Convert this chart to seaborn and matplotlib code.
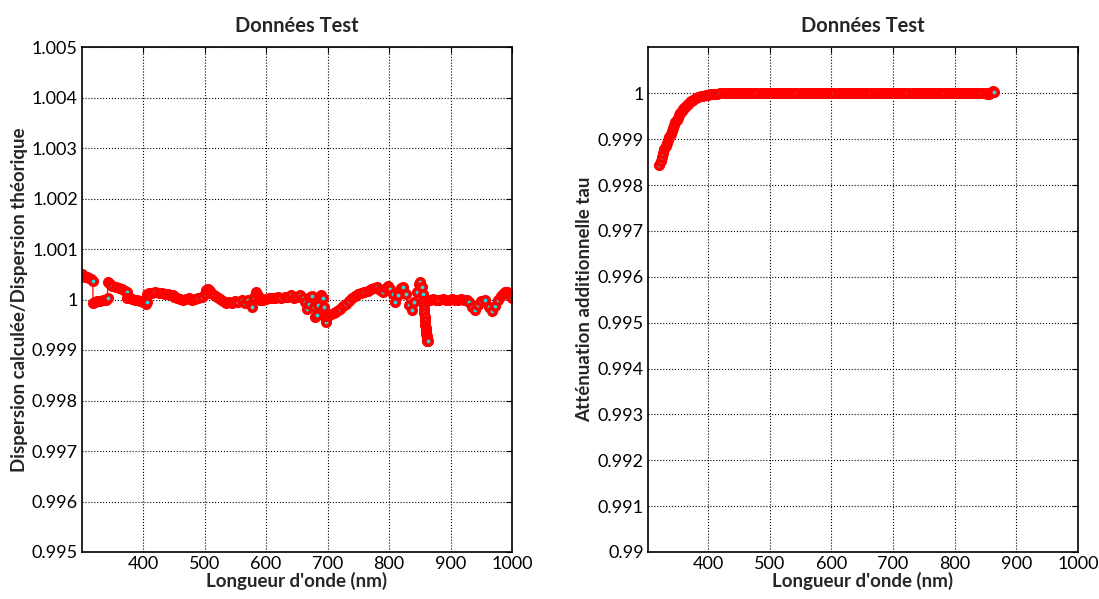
import matplotlib
matplotlib.use("Agg")
import matplotlib.pyplot as plt
import seaborn as sns
import pandas as pd

# ---------------- data ----------------
left_wavelength = [
    300, 303, 306, 309, 312, 315, 318,
    318.5, 321, 325, 330, 335, 340, 342,
    342.5, 346, 350, 355, 360, 365, 370, 373,
    374, 378, 382, 386, 390, 395, 400, 404, 406,
    407, 410, 415, 420, 425, 430, 435, 440, 445, 448,
    450, 455, 460, 465, 470, 475, 480, 485, 490, 495,
    500, 503, 505, 508, 510, 515, 520, 525, 530, 535,
    540, 545, 550, 555, 560, 565, 570, 575, 577, 580, 583, 585, 588, 590,
    595, 600, 605, 610, 615, 620, 625, 630, 635, 640, 645, 650, 655, 660,
    663, 666, 669, 672, 675, 678, 680, 682, 685, 688, 690, 692, 694, 696, 697,
    697.5, 700, 705, 710, 715, 720, 725, 730, 735, 740, 745, 750, 755, 760,
    765, 770, 775, 780, 785, 790, 795, 798, 802, 806, 810, 815, 820, 823,
    827, 832, 837, 841, 845, 848, 851, 853, 855, 856, 856.5, 857, 857.5, 858,
    858.5, 859, 859.5, 860, 860.5, 861, 861.5, 862, 862.5, 863,
    863.5, 867, 872, 877, 882, 887, 892, 897, 902, 907, 912, 917, 922, 927,
    930, 935, 940, 945, 950, 956, 962, 968, 973, 978, 982, 985, 988, 990,
    992, 994, 997, 1000,
]
left_ratio = [
    1.00050, 1.00047, 1.00045, 1.00044, 1.00042, 1.00040, 1.00037,
    0.99994, 0.99995, 0.99997, 0.99998, 0.99999, 1.00000, 1.00002,
    1.00034, 1.00030, 1.00027, 1.00024, 1.00022, 1.00020, 1.00017, 1.00015,
    1.00003, 1.00002, 1.00001, 1.00000, 1.00000, 0.99998, 0.99996, 0.99992, 0.99995,
    1.00010, 1.00012, 1.00013, 1.00014, 1.00013, 1.00012, 1.00011, 1.00010, 1.00008, 1.00009,
    1.00005, 1.00002, 1.00001, 1.00000, 1.00001, 1.00002, 1.00000, 1.00001, 1.00003, 1.00005,
    1.00010, 1.00018, 1.00020, 1.00017, 1.00012, 1.00008, 1.00005, 1.00001, 0.99997, 0.99994,
    0.99996, 0.99993, 0.99998, 0.99995, 0.99999, 0.99994, 1.00000, 0.99992, 0.99986, 1.00004, 1.00015, 1.00010, 1.00005, 1.00000,
    1.00000, 1.00001, 1.00002, 1.00003, 1.00002, 1.00004, 1.00003, 1.00005, 1.00004, 1.00008, 1.00003, 1.00004, 1.00008, 1.00002,
    0.99996, 0.99982, 0.99992, 1.00004, 1.00006, 0.99985, 0.99965, 0.99970, 0.99990, 1.00004, 1.00008, 1.00002, 0.99985, 0.99965, 0.99955,
    0.99968, 0.99968, 0.99971, 0.99974, 0.99978, 0.99982, 0.99987, 0.99992, 0.99997, 1.00002, 1.00006, 1.00010, 1.00013, 1.00014,
    1.00016, 1.00020, 1.00022, 1.00025, 1.00018, 1.00014, 1.00022, 1.00026, 1.00020, 1.00010, 0.99996, 1.00008, 1.00022, 1.00024,
    1.00010, 0.99990, 0.99980, 0.99995, 1.00015, 1.00030, 1.00034, 1.00025, 1.00010, 0.99998, 0.99990, 0.99982, 0.99974, 0.99966,
    0.99958, 0.99950, 0.99943, 0.99937, 0.99932, 0.99927, 0.99923, 0.99920, 0.99918, 0.99917,
    1.00000, 1.00000, 1.00001, 1.00000, 1.00000, 1.00001, 1.00000, 1.00000, 1.00001, 1.00000, 1.00000, 1.00001, 1.00000, 0.99999,
    0.99995, 0.99985, 0.99980, 0.99990, 0.99998, 1.00000, 0.99985, 0.99978, 0.99988, 1.00000, 1.00006, 1.00010, 1.00014, 1.00015,
    1.00014, 1.00012, 1.00008, 1.00002,
]

right_wavelength = [
    321, 323, 325, 327, 329, 331, 333, 335, 337, 339, 341, 343, 345, 347, 349,
    351, 353, 355, 357, 359, 361, 363, 365, 367, 370, 373, 376, 380, 384, 388,
    392, 396, 400, 405, 410, 415, 420, 425, 430, 435, 440, 445, 450, 455, 460,
    465, 470, 475, 480, 485, 490, 495, 500, 505, 510, 515, 520, 525, 530, 535,
    540, 545, 550, 555, 560, 565, 570, 575, 580, 585, 590, 595, 600, 605, 610,
    615, 620, 625, 630, 635, 640, 645, 650, 655, 660, 665, 670, 675, 680, 685,
    690, 695, 700, 705, 710, 715, 720, 725, 730, 735, 740, 745, 750, 755, 760,
    765, 770, 775, 780, 785, 790, 795, 800, 805, 810, 815, 820, 825, 830, 835,
    840, 845, 850, 853, 856, 858, 860, 862, 864,
]
right_tau = [
    0.99844, 0.99853, 0.99862, 0.99870, 0.99878, 0.99885, 0.99892, 0.99898, 0.99905, 0.99912, 0.99918, 0.99925, 0.99931, 0.99937, 0.99942,
    0.99947, 0.99952, 0.99957, 0.99961, 0.99965, 0.99968, 0.99971, 0.99974, 0.99977, 0.99980, 0.99983, 0.99986, 0.99989, 0.99992, 0.99994,
    0.99995, 0.99996, 0.99997, 0.99998, 0.99999, 0.99999, 1.00000, 1.00000, 1.00000, 1.00000, 1.00000, 1.00000, 1.00000, 1.00000, 1.00000,
    1.00000, 1.00000, 1.00000, 1.00000, 1.00000, 1.00001, 1.00000, 1.00000, 1.00000, 1.00000, 1.00000, 1.00000, 1.00000, 1.00000, 1.00000,
    1.00000, 1.00000, 1.00001, 1.00000, 1.00000, 1.00000, 1.00000, 1.00000, 1.00000, 1.00000, 1.00000, 1.00000, 1.00000, 1.00000, 1.00000,
    1.00000, 1.00000, 1.00000, 1.00000, 1.00000, 1.00000, 1.00000, 1.00000, 1.00000, 1.00001, 1.00000, 1.00000, 1.00000, 1.00000, 1.00000,
    1.00000, 1.00000, 1.00000, 1.00000, 1.00000, 1.00000, 1.00001, 1.00000, 1.00000, 1.00000, 1.00000, 1.00000, 1.00000, 1.00000, 1.00000,
    1.00000, 1.00000, 1.00000, 1.00000, 1.00000, 1.00000, 1.00000, 1.00000, 1.00000, 1.00000, 1.00000, 1.00001, 1.00000, 1.00000, 1.00000,
    1.00000, 1.00001, 1.00001, 0.99999, 0.99998, 1.00001, 1.00003, 1.00004, 1.00002,
]

left_xticks = [400, 500, 600, 700, 800, 900, 1000]
left_yticks = [0.995, 0.996, 0.997, 0.998, 0.999, 1.000, 1.001, 1.002, 1.003, 1.004, 1.005]
left_yticklabels = ["0.995", "0.996", "0.997", "0.998", "0.999", "1", "1.001", "1.002", "1.003", "1.004", "1.005"]
right_xticks = [400, 500, 600, 700, 800, 900, 1000]
right_yticks = [0.990, 0.991, 0.992, 0.993, 0.994, 0.995, 0.996, 0.997, 0.998, 0.999, 1.000]
right_yticklabels = ["0.99", "0.991", "0.992", "0.993", "0.994", "0.995", "0.996", "0.997", "0.998", "0.999", "1"]

title = "Données Test"
xlabel = "Longueur d'onde (nm)"
left_ylabel = "Dispersion calculée/Dispersion théorique"
right_ylabel = "Atténuation additionnelle tau"

# ---------------- style ----------------
sns.set_style("white")
plt.rcParams["font.family"] = ["Lato", "DejaVu Sans"]
plt.rcParams["font.size"] = 13

fig = plt.figure(figsize=(10.99, 5.99), dpi=100)
ax1 = fig.add_axes([82 / 1099, 47 / 599, 430 / 1099, 505 / 599])
ax2 = fig.add_axes([648 / 1099, 47 / 599, 430 / 1099, 505 / 599])

df_left = pd.DataFrame({"w": left_wavelength, "v": left_ratio})
df_right = pd.DataFrame({"w": right_wavelength, "v": right_tau})

line_kw = dict(color="red", linewidth=0.9, marker="o", markersize=5.4,
               markerfacecolor="#22dddd", markeredgecolor="red", markeredgewidth=2.6,
               sort=False, estimator=None)

sns.lineplot(data=df_left, x="w", y="v", ax=ax1, **line_kw)
sns.lineplot(data=df_right, x="w", y="v", ax=ax2, **line_kw)


def style_axes(ax, xlim, ylim, xticks, yticks, yticklabels, ylabel):
    ax.set_xlim(*xlim)
    ax.set_ylim(*ylim)
    ax.set_xticks(xticks)
    ax.set_xticklabels([str(t) for t in xticks])
    ax.set_yticks(yticks)
    ax.set_yticklabels(yticklabels)
    ax.grid(True, linestyle=":", color="black", linewidth=0.8)
    ax.set_axisbelow(True)
    for sp in ax.spines.values():
        sp.set_visible(True)
        sp.set_color("black")
        sp.set_linewidth(1.2)
    ax.tick_params(direction="in", length=4, width=0.8, top=True, right=True,
                   labelsize=13, pad=3, colors="black")
    ax.set_title(title, fontsize=14.5, fontweight="bold", pad=11)
    ax.set_xlabel(xlabel, fontsize=13.5, fontweight="bold", labelpad=0)
    ax.set_ylabel(ylabel, fontsize=13.5, fontweight="bold", labelpad=3)


style_axes(ax1, (300.5, 1000), (0.995, 1.005), left_xticks, left_yticks, left_yticklabels, left_ylabel)
style_axes(ax2, (302.5, 1000), (0.990, 1.00101), right_xticks, right_yticks, right_yticklabels, right_ylabel)

fig.savefig("out.png", dpi=100)
